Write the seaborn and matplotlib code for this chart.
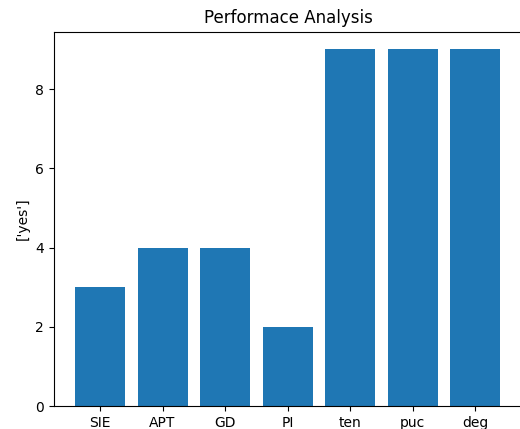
import matplotlib
matplotlib.use("Agg")
import matplotlib.pyplot as plt
import seaborn as sns
import pandas as pd

categories = ["SIE", "APT", "GD", "PI", "ten", "puc", "deg"]
values = [3, 4, 4, 2, 9, 9, 9]

df = pd.DataFrame({"cat": categories, "val": values})

fig = plt.figure(figsize=(5.2, 4.29), dpi=100)
ax = fig.add_axes([53.75 / 520, 23 / 429, 469 / 520, 374.4 / 429])
sns.barplot(data=df, x="cat", y="val", color="#1f77b4", saturation=1, width=0.8, ax=ax)
ax.set_xlim(-0.74, 6.76)
ax.set_ylim(0, 9.45)
ax.set_yticks([0, 2, 4, 6, 8])
ax.set_xlabel("")
ax.set_ylabel("['yes']")
ax.set_title("Performace Analysis")
fig.savefig("out.png", dpi=100)
